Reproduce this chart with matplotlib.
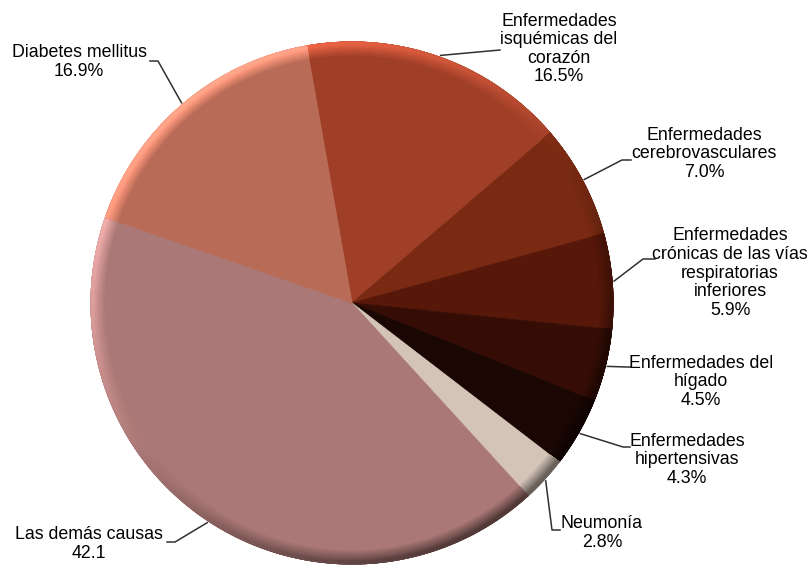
import numpy as np
import matplotlib
matplotlib.use("Agg")
import matplotlib.pyplot as plt
from matplotlib.patches import Wedge
from matplotlib.colors import to_rgb

# data
labels = ["Enfermedades\nisquémicas del\ncorazón", "Enfermedades\ncerebrovasculares",
          "Enfermedades\ncrónicas de las vías\nrespiratorias\ninferiores",
          "Enfermedades del\nhígado", "Enfermedades\nhipertensivas", "Neumonía",
          "Las demás causas", "Diabetes mellitus"]
values = [16.5, 7.0, 5.9, 4.5, 4.3, 2.8, 42.1, 16.9]
value_text = ["16.5%", "7.0%", "5.9%", "4.5%", "4.3%", "2.8%", "42.1", "16.9%"]
colors = ["#A03F28", "#7A2A12", "#571709", "#350D05", "#1A0602", "#D4C4B8", "#AA7876", "#B86B57"]

W, H = 807, 568
cx, cy, R = 352, 303, 261

# label layout in image pixels (y down): text centre, leader path near the text
label_pos = [(559, 49), (704, 154), (730, 273), (701, 382), (687, 460), (602, 533), (89, 544), (79, 62)]
leader_pts = [[(500, 50)], [(622, 160), (631, 160)], [(643, 259), (655, 259)],
              [(626, 367), (631, 367)], [(623, 447), (630, 447)], [(552, 530), (560, 530)],
              [(175, 542), (167, 542)], [(158, 61), (150, 61)]]

fig = plt.figure(figsize=(W / 100, H / 100), dpi=100)
ax = fig.add_axes([0, 0, 1, 1])

wedges, _ = ax.pie(values, colors=colors, startangle=100, counterclock=False,
                   center=(cx, H - cy), radius=R, frame=True)
for w, c in zip(wedges, colors):
    w.set_edgecolor(c)
    w.set_linewidth(0.6)


def shade(base, light, k):
    if light > 0:
        col = base * (1 + 0.45 * k * light) + 0.06 * k * light
    else:
        col = base * (1 - 0.55 * k * (-light))
    return np.clip(col, 0, 1)


# soft bevel on the rim: lighter at top-left, darker at bottom-right
layers = [(13, 0.15), (11, 0.3), (9, 0.45), (7, 0.6), (5, 0.78), (3, 0.95)]
for w, c in zip(wedges, colors):
    base = np.array(to_rgb(c))
    t1, t2 = w.theta1, w.theta2
    for width, k in layers:
        a = t1
        while a < t2:
            b = min(a + 1.0, t2)
            light = np.cos(np.radians((a + b) / 2 - 125))
            col = shade(base, light, k)
            ax.add_patch(Wedge((cx, H - cy), R, a, b, width=width, facecolor=col,
                               edgecolor=col, linewidth=0.7))
            a = b

# labels and leader lines
for w, lab, vt, (tx, ty), pts in zip(wedges, labels, value_text, label_pos, leader_pts):
    mid = np.radians((w.theta1 + w.theta2) / 2)
    ex, ey = cx + (R + 2) * np.cos(mid), H - cy + (R + 2) * np.sin(mid)
    xs = [ex] + [p[0] for p in pts]
    ys = [ey] + [H - p[1] for p in pts]
    ax.plot(xs, ys, color="#303030", lw=1.1)
    ax.text(tx, H - ty, lab + "\n" + vt, ha="center", va="center", multialignment="center",
            fontsize=12.8, family="Liberation Sans", color="black", linespacing=1.12)

ax.set_xlim(0, W)
ax.set_ylim(0, H)
ax.set_aspect("equal")
ax.axis("off")
fig.savefig("out.png", dpi=100, facecolor="white")
